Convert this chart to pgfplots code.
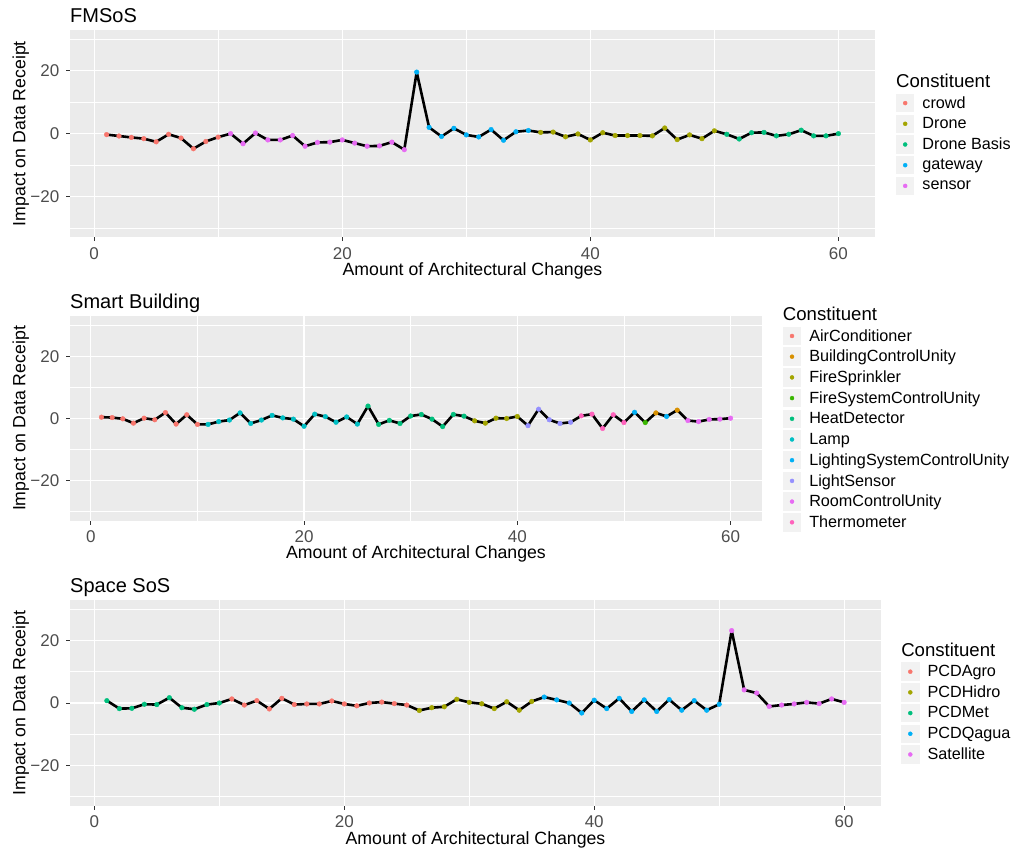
\documentclass[border=0pt]{standalone}
\usepackage{pgfplots}
\pgfplotsset{compat=1.18}
\usepackage{fontspec}
\setmainfont{Liberation Sans}
\definecolor{ggbg}{HTML}{EBEBEB}
\definecolor{ggkey}{HTML}{F2F2F2}
\definecolor{ggtick}{HTML}{4D4D4D}
\definecolor{ggtickmark}{HTML}{333333}
% 5-hue palette
\definecolor{fA}{HTML}{F8766D}
\definecolor{fB}{HTML}{A3A500}
\definecolor{fC}{HTML}{00BF7D}
\definecolor{fD}{HTML}{00B0F6}
\definecolor{fE}{HTML}{E76BF3}
% 10-hue palette
\definecolor{tA}{HTML}{F8766D}
\definecolor{tB}{HTML}{D89000}
\definecolor{tC}{HTML}{A3A500}
\definecolor{tD}{HTML}{39B600}
\definecolor{tE}{HTML}{00BF7D}
\definecolor{tF}{HTML}{00BFC4}
\definecolor{tG}{HTML}{00B0F6}
\definecolor{tH}{HTML}{9590FF}
\definecolor{tI}{HTML}{E76BF3}
\definecolor{tJ}{HTML}{FF62BC}
\pgfplotsset{
  ggbase/.style={
    scale only axis,
    clip=false,
    xmin=-1.95, xmax=62.95, ymin=-33, ymax=33,
    axis line style={draw=none},
    axis background/.style={fill=ggbg},
    xtick={0,20,40,60}, minor xtick={10,30,50},
    ytick={-20,0,20}, yticklabels={−20,0,20},
    minor ytick={-30,-10,10,30},
    grid=both,
    major grid style={white, line width=1.3pt},
    minor grid style={white, line width=0.65pt},
    tick align=outside, tick pos=left,
    major tick length=3.8pt, minor tick length=0pt,
    tick style={ggtickmark, line width=0.9pt},
    /pgf/number format/assume math mode=true,
    tick label style={font=\fontsize{17}{19}\selectfont, text=ggtick, inner sep=0pt},
    xticklabel style={anchor=north, yshift=-6pt},
    yticklabel style={anchor=east, xshift=-6.7pt},
    every axis title shift=0pt,
    title style={at={(axis description cs:0,1)}, anchor=base west, inner sep=0pt, yshift=7.5pt, font=\fontsize{20}{24}\selectfont},
    xlabel style={at={(axis description cs:0.5,0)}, anchor=base, inner sep=0pt, yshift=-38pt, font=\fontsize{17.7}{20}\selectfont},
    ylabel style={anchor=base, inner sep=0pt, font=\fontsize{17.7}{20}\selectfont},
    xlabel={Amount of Architectural Changes},
    ylabel={Impact on Data Receipt},
    legend cell align=left,
    legend style={draw=none, fill=none, inner sep=0pt, outer sep=0pt,
      row sep=2.2pt, column sep=0pt,
      font=\fontsize{16.2}{18}\selectfont,
      nodes={inner sep=0pt, anchor=west}},
    legend image code/.code={
      \fill[ggkey, draw=none] (0pt,-9.25pt) rectangle (18.5pt,9.25pt);
      \path[draw=none, fill=none] (0pt,-1pt) rectangle (26.5pt,1pt);
      \draw[##1, mark size=2pt] plot coordinates {(9.25pt,0pt)};
    },
  },
  dataline/.style={black, line width=2.6pt, line join=round, forget plot},
  dots/.style={only marks, mark=*, mark size=2.35pt, color=#1, mark options={draw=none, fill=#1}},
}
\newcommand{\legtitle}[2]{\node[anchor=base west, inner sep=0pt, font=\fontsize{18.6}{20}\selectfont] at (axis description cs:#1,#2) {Constituent};}
\begin{document}
\begin{tikzpicture}
\useasboundingbox (0,0) rectangle (1016pt,-848pt);
% ---------------- FMSoS ----------------
\begin{axis}[ggbase, at={(70pt,-30pt)}, anchor=north west,
  width=805pt, height=207.3pt, title={FMSoS},
  ylabel style={at={(axis description cs:-0.0555,0.5)}},
  legend style={at={(axis description cs:1.026,0.692)}, anchor=north west}]
\addplot[dataline] coordinates {
(1,-0.3)(2,-0.75)(3,-1.2)(4,-1.6)(5,-2.6)(6,-0.2)(7,-1.4)(8,-4.8)(9,-2.5)(10,-1.1)
(11,0)(12,-3.2)(13,0.2)(14,-2.0)(15,-2.0)(16,-0.6)(17,-4.0)(18,-2.8)(19,-2.7)(20,-2.0)(21,-3.0)(22,-4.0)(23,-3.9)(24,-2.7)(25,-5.1)
(26,19.6)(27,2.0)(28,-0.9)(29,1.7)(30,-0.4)(31,-1.05)(32,1.3)(33,-2.1)(34,0.6)(35,1.0)
(36,0.4)(37,0.5)(38,-1.0)(39,-0.1)(40,-2.0)(41,0.3)(42,-0.6)(43,-0.6)(44,-0.6)(45,-0.7)(46,1.8)(47,-1.9)(48,-0.4)(49,-1.6)(50,0.9)
(51,-0.2)(52,-1.7)(53,0.3)(54,0.4)(55,-0.7)(56,-0.2)(57,1.1)(58,-0.7)(59,-0.7)(60,0)};
\addplot[dots=fA] coordinates {(1,-0.3)(2,-0.75)(3,-1.2)(4,-1.6)(5,-2.6)(6,-0.2)(7,-1.4)(8,-4.8)(9,-2.5)(10,-1.1)};
\addlegendentry{crowd}
\addplot[dots=fB] coordinates {(36,0.4)(37,0.5)(38,-1.0)(39,-0.1)(40,-2.0)(41,0.3)(42,-0.6)(43,-0.6)(44,-0.6)(45,-0.7)(46,1.8)(47,-1.9)(48,-0.4)(49,-1.6)(50,0.9)};
\addlegendentry{Drone}
\addplot[dots=fC] coordinates {(51,-0.2)(52,-1.7)(53,0.3)(54,0.4)(55,-0.7)(56,-0.2)(57,1.1)(58,-0.7)(59,-0.7)(60,0)};
\addlegendentry{Drone Basis}
\addplot[dots=fD] coordinates {(26,19.6)(27,2.0)(28,-0.9)(29,1.7)(30,-0.4)(31,-1.05)(32,1.3)(33,-2.1)(34,0.6)(35,1.0)};
\addlegendentry{gateway}
\addplot[dots=fE] coordinates {(11,0)(12,-3.2)(13,0.2)(14,-2.0)(15,-2.0)(16,-0.6)(17,-4.0)(18,-2.8)(19,-2.7)(20,-2.0)(21,-3.0)(22,-4.0)(23,-3.9)(24,-2.7)(25,-5.1)};
\addlegendentry{sensor}
\legtitle{1.026}{0.7236}
\end{axis}
% ---------------- Smart Building ----------------
\begin{axis}[ggbase, at={(70pt,-316pt)}, anchor=north west,
  width=692pt, height=205pt, title={Smart Building},
  ylabel style={at={(axis description cs:-0.0646,0.5)}},
  legend style={at={(axis description cs:1.030,0.9476)}, anchor=north west}]
\addplot[dataline] coordinates {
(1,0.43)(2,0.3)(3,-0.1)(4,-1.5)(5,0.1)(6,-0.4)(7,1.9)(8,-1.8)(9,1.2)(10,-1.9)
(11,-1.9)(12,-1.0)(13,-0.5)(14,1.8)(15,-1.6)(16,-0.5)(17,1.0)(18,0.2)(19,-0.2)(20,-2.5)(21,1.4)(22,0.6)(23,-1.2)(24,0.5)(25,-1.8)
(26,4.0)(27,-1.9)(28,-0.6)(29,-1.6)(30,0.8)(31,1.3)(32,-0.2)(33,-2.6)(34,1.3)(35,0.75)
(36,-0.75)(37,-1.5)(38,0.1)(39,0)(40,0.65)
(41,-2.3)(42,3.0)(43,-0.4)(44,-1.6)(45,-1.2)
(46,0.85)(47,1.4)(48,-3.2)(49,1.2)(50,-1.3)
(51,2.0)(52,-1.3)(53,1.8)(54,0.65)(55,2.7)
(56,-0.65)(57,-1.0)(58,-0.3)(59,-0.2)(60,0.1)};
\addplot[dots=tA] coordinates {(1,0.43)(2,0.3)(3,-0.1)(4,-1.5)(5,0.1)(6,-0.4)(7,1.9)(8,-1.8)(9,1.2)(10,-1.9)};
\addlegendentry{AirConditioner}
\addplot[dots=tB] coordinates {(53,1.8)(55,2.7)};
\addlegendentry{BuildingControlUnity}
\addplot[dots=tC] coordinates {(36,-0.75)(37,-1.5)(38,0.1)(39,0)(40,0.65)};
\addlegendentry{FireSprinkler}
\addplot[dots=tD] coordinates {(52,-1.3)};
\addlegendentry{FireSystemControlUnity}
\addplot[dots=tE] coordinates {(26,4.0)(27,-1.9)(28,-0.6)(29,-1.6)(30,0.8)(31,1.3)(32,-0.2)(33,-2.6)(34,1.3)(35,0.75)};
\addlegendentry{HeatDetector}
\addplot[dots=tF] coordinates {(11,-1.9)(12,-1.0)(13,-0.5)(14,1.8)(15,-1.6)(16,-0.5)(17,1.0)(18,0.2)(19,-0.2)(20,-2.5)(21,1.4)(22,0.6)(23,-1.2)(24,0.5)(25,-1.8)};
\addlegendentry{Lamp}
\addplot[dots=tG] coordinates {(51,2.0)(54,0.65)};
\addlegendentry{LightingSystemControlUnity}
\addplot[dots=tH] coordinates {(41,-2.3)(42,3.0)(43,-0.4)(44,-1.6)(45,-1.2)};
\addlegendentry{LightSensor}
\addplot[dots=tI] coordinates {(56,-0.65)(57,-1.0)(58,-0.3)(59,-0.2)(60,0.1)};
\addlegendentry{RoomControlUnity}
\addplot[dots=tJ] coordinates {(46,0.85)(47,1.4)(48,-3.2)(49,1.2)(50,-1.3)};
\addlegendentry{Thermometer}
\legtitle{1.030}{0.977}
\end{axis}
% ---------------- Space SoS ----------------
\begin{axis}[ggbase, at={(70pt,-600pt)}, anchor=north west,
  width=811pt, height=206pt, title={Space SoS},
  ylabel style={at={(axis description cs:-0.0551,0.5)}},
  legend style={at={(axis description cs:1.0247,0.697)}, anchor=north west}]
\addplot[dataline] coordinates {
(1,0.75)(2,-1.8)(3,-1.7)(4,-0.4)(5,-0.5)(6,1.7)(7,-1.5)(8,-2.0)(9,-0.5)(10,0)
(11,1.3)(12,-0.65)(13,0.75)(14,-1.9)(15,1.5)(16,-0.5)(17,-0.3)(18,-0.3)(19,0.65)(20,-0.3)(21,-0.9)(22,0)(23,0.3)(24,-0.2)(25,-0.65)
(26,-2.4)(27,-1.5)(28,-1.2)(29,1.2)(30,0.2)(31,-0.25)(32,-1.8)(33,0.4)(34,-2.3)(35,0.5)
(36,1.9)(37,1.0)(38,0)(39,-3.2)(40,0.9)(41,-1.8)(42,1.5)(43,-2.7)(44,1.0)(45,-2.7)(46,1.1)(47,-2.3)(48,0.75)(49,-2.3)(50,-0.4)
(51,23.2)(52,4.2)(53,3.2)(54,-1.1)(55,-0.65)(56,-0.3)(57,0.2)(58,-0.2)(59,1.3)(60,0.2)};
\addplot[dots=fA] coordinates {(11,1.3)(12,-0.65)(13,0.75)(14,-1.9)(15,1.5)(16,-0.5)(17,-0.3)(18,-0.3)(19,0.65)(20,-0.3)(21,-0.9)(22,0)(23,0.3)(24,-0.2)(25,-0.65)};
\addlegendentry{PCDAgro}
\addplot[dots=fB] coordinates {(26,-2.4)(27,-1.5)(28,-1.2)(29,1.2)(30,0.2)(31,-0.25)(32,-1.8)(33,0.4)(34,-2.3)(35,0.5)};
\addlegendentry{PCDHidro}
\addplot[dots=fC] coordinates {(1,0.75)(2,-1.8)(3,-1.7)(4,-0.4)(5,-0.5)(6,1.7)(7,-1.5)(8,-2.0)(9,-0.5)(10,0)};
\addlegendentry{PCDMet}
\addplot[dots=fD] coordinates {(36,1.9)(37,1.0)(38,0)(39,-3.2)(40,0.9)(41,-1.8)(42,1.5)(43,-2.7)(44,1.0)(45,-2.7)(46,1.1)(47,-2.3)(48,0.75)(49,-2.3)(50,-0.4)};
\addlegendentry{PCDQagua}
\addplot[dots=fE] coordinates {(51,23.2)(52,4.2)(53,3.2)(54,-1.1)(55,-0.65)(56,-0.3)(57,0.2)(58,-0.2)(59,1.3)(60,0.2)};
\addlegendentry{Satellite}
\legtitle{1.0247}{0.7248}
\end{axis}
\end{tikzpicture}
\end{document}
